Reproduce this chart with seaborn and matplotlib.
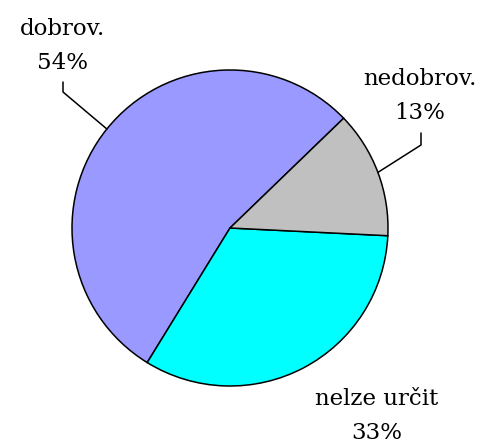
import numpy as np
import matplotlib
matplotlib.use("Agg")
import matplotlib.pyplot as plt
import seaborn as sns

labels = ["dobrov.", "nelze určit", "nedobrov."]
shares = [54, 33, 13]
colors = ["#9999FF", "#00FFFF", "#C0C0C0"]

sns.set_style("white")
plt.rcParams['font.family'] = ['DejaVu Serif']

fig = plt.figure(figsize=(4.86, 4.46), dpi=100)
ax = fig.add_axes([0, 0, 1, 1])

cx, cy, r = 230, 218, 158
wedges, _ = ax.pie(shares, colors=colors, startangle=44, counterclock=True,
                   center=(cx, cy), radius=r, frame=True,
                   wedgeprops=dict(edgecolor="black", linewidth=1.1))
ax.set_xlim(0, 486)
ax.set_ylim(0, 446)
ax.set_aspect("equal")
ax.axis("off")

# label text positions (x centre, y of name) and elbow of the leader line
label_pos = {
    "dobrov.": (62, 417),
    "nelze určit": (377, 47),
    "nedobrov.": (420, 367),
}
elbow = {
    "dobrov.": (63, 354),
    "nedobrov.": (421, 301),
}
top = {
    "dobrov.": 364,
    "nedobrov.": 313,
}

for w, name, pct in zip(wedges, labels, shares):
    x, y = label_pos[name]
    ax.text(x, y, name, ha="center", va="center", fontsize=16.5, color="black")
    ax.text(x, y - 34, f"{pct}%", ha="center", va="center", fontsize=16.5, color="black")
    if name in elbow:
        mid = np.deg2rad((w.theta1 + w.theta2) / 2)
        ex, ey = cx + r * np.cos(mid), cy + r * np.sin(mid)
        bx, by = elbow[name]
        ax.plot([ex, bx, bx], [ey, by, top[name]], color="black", lw=1.1)

plt.savefig("out.png", dpi=100)
